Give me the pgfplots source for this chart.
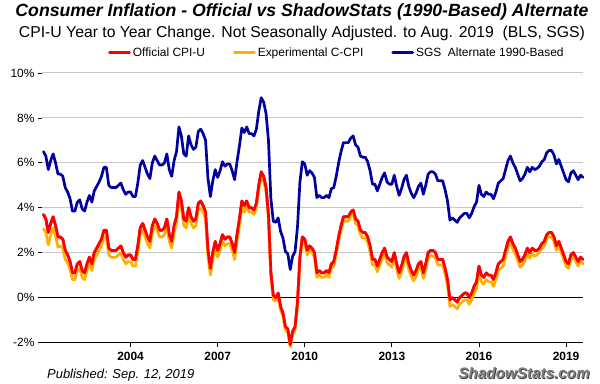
\documentclass[border=0pt]{standalone}
\usepackage{pgfplots}
\pgfplotsset{compat=1.18}
\usepackage{pgfplotstable}
\usepackage{fontspec}
\setmainfont{Liberation Sans}
\usepackage{graphicx}
\definecolor{cpired}{HTML}{FF0000}
\definecolor{ccpiorange}{HTML}{FFB000}
\definecolor{sgsblue}{HTML}{0000A0}
\definecolor{gridgray}{HTML}{C8C8C8}

\pgfplotstableread{
i cpi ccpi sgs
0 3.7 3.05 6.5
1 3.5 2.90 6.3
2 2.9 2.35 5.7
3 3.3 2.80 6.1
4 3.6 3.10 6.4
5 3.2 2.75 6.0
6 2.7 2.25 5.5
7 2.7 2.30 5.5
8 2.6 2.20 5.4
9 2.1 1.70 4.9
10 1.9 1.55 4.7
11 1.6 1.25 4.4
12 1.1 0.8 3.85
13 1.1 0.8 3.85
14 1.5 1.2 4.25
15 1.6 1.3 4.35
16 1.2 0.9 3.95
17 1.1 0.8 3.85
18 1.5 1.2 4.25
19 1.8 1.5 4.55
20 1.5 1.2 4.25
21 2.0 1.7 4.75
22 2.2 1.9 4.95
23 2.4 2.1 5.15
24 2.6 2.3 5.4
25 3.0 2.7 5.8
26 3.0 2.7 5.8
27 2.2 1.9 5.0
28 2.1 1.8 4.9
29 2.1 1.8 4.9
30 2.1 1.8 4.9
31 2.2 1.9 5.0
32 2.3 2.0 5.1
33 2.0 1.7 4.8
34 1.8 1.5 4.6
35 1.9 1.6 4.7
36 1.9 1.6 4.7
37 1.7 1.4 4.5
38 1.7 1.4 4.5
39 2.3 2.0 5.1
40 3.1 2.8 5.9
41 3.3 3.0 6.1
42 3.0 2.7 5.8
43 2.7 2.4 5.5
44 2.5 2.2 5.3
45 3.2 2.9 6.0
46 3.5 3.2 6.3
47 3.3 3.0 6.1
48 3.0 2.7 5.9
49 3.0 2.7 5.9
50 3.1 2.8 6.0
51 3.5 3.2 6.4
52 2.8 2.5 5.7
53 2.5 2.2 5.4
54 3.2 2.9 6.1
55 3.6 3.3 6.5
56 4.7 4.4 7.6
57 4.3 4.0 7.2
58 3.5 3.2 6.4
59 3.4 3.1 6.3
60 4.0 3.7 7.2
61 3.6 3.3 6.8
62 3.4 3.1 6.6
63 3.5 3.2 6.7
64 4.2 3.9 7.4
65 4.3 4.0 7.5
66 4.1 3.8 7.3
67 3.8 3.5 7.0
68 2.1 1.8 5.3
69 1.3 1.0 4.5
70 2.0 1.7 5.2
71 2.5 2.2 5.7
72 2.1 1.8 5.35
73 2.4 2.1 5.65
74 2.8 2.5 6.05
75 2.6 2.3 5.85
76 2.7 2.4 5.95
77 2.7 2.4 5.95
78 2.4 2.1 5.65
79 2.0 1.7 5.25
80 2.8 2.5 6.05
81 3.5 3.2 6.75
82 4.3 4.0 7.55
83 4.1 3.8 7.35
84 4.3 4.1 7.6
85 4.0 3.8 7.3
86 4.0 3.8 7.3
87 3.9 3.7 7.2
88 4.2 4.0 7.5
89 5.0 4.8 8.3
90 5.6 5.4 8.9
91 5.4 5.2 8.7
92 4.9 4.7 8.2
93 3.7 3.5 7.0
94 1.1 0.9 4.4
95 0.1 -0.1 3.4
96 0.0 -0.15 3.35
97 0.2 0.05 3.55
98 -0.4 -0.55 2.95
99 -0.7 -0.85 2.65
100 -1.3 -1.45 2.05
101 -1.4 -1.55 1.95
102 -2.1 -2.2 1.25
103 -1.5 -1.65 1.85
104 -1.3 -1.45 2.05
105 -0.2 -0.35 3.15
106 1.8 1.65 5.15
107 2.7 2.55 6.05
108 2.6 2.4 5.95
109 2.1 1.9 5.45
110 2.3 2.1 5.65
111 2.2 2.0 5.55
112 2.0 1.8 5.35
113 1.1 0.9 4.45
114 1.2 1.0 4.55
115 1.1 0.9 4.45
116 1.1 0.9 4.45
117 1.2 1.0 4.55
118 1.1 0.9 4.45
119 1.5 1.3 4.85
120 1.6 1.4 4.9
121 2.1 1.9 5.4
122 2.7 2.5 6.0
123 3.2 3.0 6.5
124 3.6 3.4 6.9
125 3.6 3.4 6.9
126 3.6 3.4 6.9
127 3.8 3.6 7.1
128 3.9 3.7 7.2
129 3.5 3.3 6.8
130 3.4 3.2 6.7
131 3.0 2.8 6.3
132 2.9 2.65 6.25
133 2.9 2.65 6.25
134 2.7 2.45 6.05
135 2.3 2.05 5.65
136 1.7 1.45 5.05
137 1.7 1.45 5.05
138 1.4 1.15 4.75
139 1.7 1.45 5.05
140 2.0 1.75 5.35
141 2.2 1.95 5.55
142 1.8 1.55 5.15
143 1.7 1.45 5.05
144 1.6 1.35 5.05
145 2.0 1.75 5.45
146 1.5 1.25 4.95
147 1.1 0.85 4.55
148 1.4 1.15 4.85
149 1.8 1.55 5.25
150 2.0 1.75 5.45
151 1.5 1.25 4.95
152 1.2 0.95 4.65
153 1.0 0.75 4.45
154 1.2 0.95 4.65
155 1.5 1.25 4.95
156 1.6 1.35 5.1
157 1.1 0.85 4.6
158 1.5 1.25 5.0
159 2.0 1.75 5.5
160 2.1 1.85 5.6
161 2.1 1.85 5.6
162 2.0 1.75 5.5
163 1.7 1.45 5.2
164 1.7 1.45 5.2
165 1.7 1.45 5.2
166 1.3 1.05 4.8
167 0.8 0.55 4.3
168 -0.1 -0.4 3.45
169 0.0 -0.3 3.55
170 -0.1 -0.4 3.45
171 -0.2 -0.5 3.35
172 0.0 -0.3 3.55
173 0.1 -0.2 3.65
174 0.2 -0.1 3.75
175 0.2 -0.1 3.75
176 0.0 -0.3 3.55
177 0.2 -0.1 3.75
178 0.5 0.2 4.05
179 0.7 0.4 4.25
180 1.4 1.1 5.0
181 1.0 0.7 4.6
182 0.9 0.6 4.5
183 1.1 0.8 4.7
184 1.0 0.7 4.6
185 1.0 0.7 4.6
186 0.8 0.5 4.4
187 1.1 0.8 4.7
188 1.5 1.2 5.1
189 1.6 1.3 5.2
190 1.7 1.4 5.3
191 2.1 1.8 5.7
192 2.5 2.25 6.1
193 2.7 2.45 6.3
194 2.4 2.15 6.0
195 2.2 1.95 5.8
196 1.9 1.65 5.5
197 1.6 1.35 5.2
198 1.7 1.45 5.3
199 1.9 1.65 5.5
200 2.2 1.95 5.8
201 2.0 1.75 5.6
202 2.2 1.95 5.8
203 2.1 1.85 5.7
204 2.1 1.9 5.75
205 2.2 2.0 5.85
206 2.4 2.2 6.05
207 2.5 2.3 6.15
208 2.8 2.6 6.45
209 2.9 2.7 6.55
210 2.9 2.7 6.55
211 2.7 2.5 6.35
212 2.3 2.1 5.95
213 2.5 2.3 6.15
214 2.2 2.0 5.85
215 1.9 1.7 5.55
216 1.6 1.4 5.25
217 1.5 1.3 5.15
218 1.9 1.7 5.55
219 2.0 1.8 5.65
220 1.8 1.6 5.45
221 1.6 1.4 5.25
222 1.8 1.6 5.45
223 1.7 1.5 5.35
}\infl

\begin{document}
\begin{tikzpicture}
\useasboundingbox (0,0) rectangle (600bp,384bp);
\begin{axis}[
  at={(42bp,41.5bp)}, anchor=south west,
  scale only axis, width=541bp, height=269.5bp,
  xmin=-0.6, xmax=223, ymin=-2, ymax=10,
  clip=false,
  axis x line*=bottom, axis y line*=left,
  y axis line style={draw=none},
  x axis line style={black, line width=1.3bp},
  xtick={36,72,108,144,180,216},
  xticklabels={2004,2007,2010,2013,2016,2019},
  ytick={-2,0,2,4,6,8,10},
  yticklabels={-2\%,0\%,2\%,4\%,6\%,8\%,10\%},
  tick align=outside, major tick length=4bp,
  tick style={black, line width=0.8bp},
  ymajorgrids, grid style={gridgray, line width=1bp},
  extra y ticks={0}, extra y tick labels={},
  extra y tick style={grid style={black, line width=1.3bp}},
  yticklabel style={font=\fontsize{12}{14}\selectfont},
  xticklabel style={font=\fontsize{12}{14}\selectfont\bfseries, yshift=-2bp},
  legend style={draw=none, fill=none, at={(0.1165,1.075)}, anchor=west,
    font=\fontsize{12}{14}\selectfont,
    /tikz/every even column/.append style={column sep=26bp}},
  legend columns=3,
  legend image code/.code={\draw[#1] (0bp,0bp) -- (20bp,0bp);},
  every axis plot/.append style={line width=2.7bp, line join=round, line cap=round},
]
\addplot[cpired] table[x=i,y=cpi]{\infl};
\addlegendentry{Official CPI-U}
\addplot[ccpiorange] table[x=i,y=ccpi]{\infl};
\addlegendentry{Experimental C-CPI}
\addplot[sgsblue] table[x=i,y=sgs]{\infl};
\addlegendentry{SGS\ \ Alternate 1990-Based}
\addplot[cpired, forget plot] table[x=i,y=cpi]{\infl};
\end{axis}
\node[inner sep=0] at (302bp,372bp) {\resizebox{573bp}{!}{\fontsize{18}{20}\selectfont\bfseries\itshape Consumer Inflation - Official vs ShadowStats (1990-Based) Alternate}};
\node[inner sep=0] at (302bp,351bp) {\resizebox{566bp}{!}{\fontsize{15}{17}\selectfont CPI-U Year to Year Change. Not Seasonally Adjusted. to Aug. 2019\ \ (BLS, SGS)}};
\node[anchor=west, inner sep=0] at (47bp,9bp) {\fontsize{13}{15}\selectfont\itshape Published: Sep. 12, 2019};
\node[anchor=east, inner sep=0, text=black!75] at (590.8bp,10.4bp) {\fontsize{15.3}{17}\selectfont\bfseries\itshape ShadowStats.com};
\node[anchor=east, inner sep=0, text=black!50] at (590bp,11bp) {\fontsize{15.3}{17}\selectfont\bfseries\itshape ShadowStats.com};
\end{tikzpicture}
\end{document}
